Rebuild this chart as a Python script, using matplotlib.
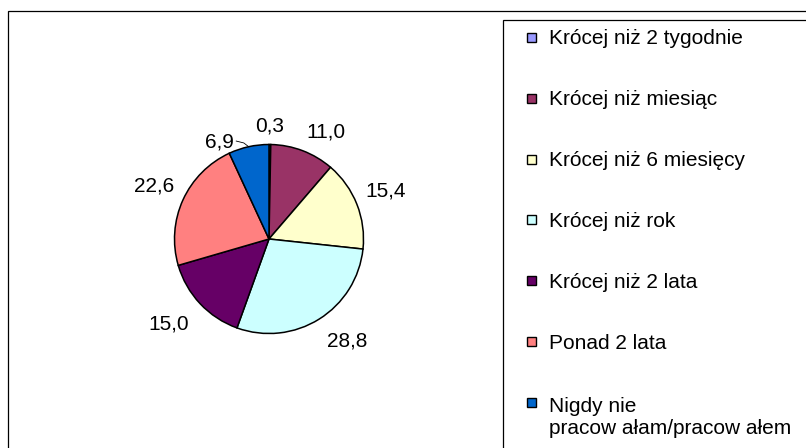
import numpy as np
import matplotlib

matplotlib.use("Agg")
import matplotlib.pyplot as plt
from matplotlib.patches import Rectangle

plt.rcParams["font.family"] = ["Liberation Sans", "DejaVu Sans"]

etykiety = [
    "Krócej niż 2 tygodnie",
    "Krócej niż miesiąc",
    "Krócej niż 6 miesięcy",
    "Krócej niż rok",
    "Krócej niż 2 lata",
    "Ponad 2 lata",
    "Nigdy nie\npracow ałam/pracow ałem",
]
wartosci = [0.3, 11.0, 15.4, 28.8, 15.0, 22.6, 6.9]
kolory = ["#9999FF", "#993366", "#FFFFCC", "#CCFFFF", "#660066", "#FF8080", "#0066CC"]

W, H = 806, 448
ROZMIAR = 15
INTERLINIA = 1.2

fig = plt.figure(figsize=(W / 100, H / 100), dpi=100)

# ramka wykresu i ramka legendy (wychodza poza kadr, jak w oryginale)
fig.patches.append(Rectangle((8 / W, -0.1), 1.2, (H - 11) / H + 0.1, transform=fig.transFigure,
                             fill=False, edgecolor="black", linewidth=0.9))
fig.patches.append(Rectangle((503 / W, -0.1), 1.2, (H - 20) / H + 0.1, transform=fig.transFigure,
                             fill=False, edgecolor="black", linewidth=0.9))

# kolo
R_PX = 94.5
SRODEK = (269, 239)
ZAKRES = 1.6
bok = 2 * R_PX * ZAKRES
ax = fig.add_axes([(SRODEK[0] - bok / 2) / W, (H - SRODEK[1] - bok / 2) / H, bok / W, bok / H])
kliny, _ = ax.pie(wartosci, colors=kolory, startangle=90, counterclock=False,
                  wedgeprops=dict(edgecolor="black", linewidth=1.1))
ax.set_xlim(-ZAKRES, ZAKRES)
ax.set_ylim(-ZAKRES, ZAKRES)
ax.set_aspect("equal")
ax.axis("off")

for i, (k, v) in enumerate(zip(kliny, wartosci)):
    kat = np.deg2rad((k.theta1 + k.theta2) / 2)
    tekst = f"{v:.1f}".replace(".", ",")
    if i == len(wartosci) - 1:
        # etykieta przesunieta z linia odniesienia
        kat2 = kat + np.deg2rad(4)
        x, y = 1.12 * np.cos(kat2), 1.07 * np.sin(kat2)
        ax.text(x - 0.05, y, tekst, ha="right", va="center", fontsize=ROZMIAR)
        ax.plot([x - 0.03, x + 0.05, np.cos(kat)], [y + 0.01, y - 0.01, np.sin(kat)],
                color="black", linewidth=0.6)
        continue
    c, s = np.cos(kat), np.sin(kat)
    ha = "left" if c > 0.1 else ("right" if c < -0.1 else "center")
    va = "bottom" if s > 0 else "top"
    r = 1.1 if s > 0 else 1.16
    ax.text(r * c, r * s, tekst, ha=ha, va=va, fontsize=ROZMIAR)

# legenda
y0 = 37.5
krok = 60.8
wys_linii = ROZMIAR * 100 / 72 * INTERLINIA
for i, (et, kol) in enumerate(zip(etykiety, kolory)):
    yc = y0 + i * krok
    fig.patches.append(Rectangle((527 / W, (H - yc - 4.5) / H), 9 / W, 9 / H,
                                 transform=fig.transFigure, facecolor=kol,
                                 edgecolor="black", linewidth=1.0))
    baza = yc + 7 + wys_linii * et.count("\n")
    fig.text(549 / W, (H - baza) / H, et, ha="left", va="baseline",
             fontsize=ROZMIAR, linespacing=INTERLINIA)

fig.savefig("out.png", dpi=100)
